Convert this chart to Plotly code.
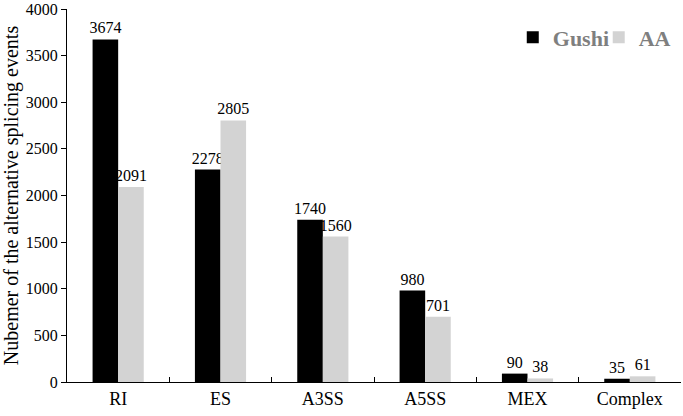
import plotly.graph_objects as go

categories = ["RI", "ES", "A3SS", "A5SS", "MEX", "Complex"]
gushi = [3674, 2278, 1740, 980, 90, 35]
aa = [2091, 2805, 1560, 701, 38, 61]
y_ticks = [0, 500, 1000, 1500, 2000, 2500, 3000, 3500, 4000]

FONT = "Liberation Serif, Times New Roman, serif"
LEG_FONT = dict(family=FONT, size=22, color="#7F7F7F", weight="bold")

fig = go.Figure()
fig.add_trace(go.Bar(
    name="Gushi", x=categories, y=gushi, legend="legend",
    marker=dict(color="#000000", line=dict(width=0)),
    text=[str(v) for v in gushi], textposition="outside",
    textfont=dict(family=FONT, size=16, color="#000000"),
    constraintext="none", cliponaxis=False,
))
fig.add_trace(go.Bar(
    name="AA", x=categories, y=aa, legend="legend2",
    marker=dict(color="#D3D3D3", line=dict(width=0)),
    text=[str(v) for v in aa], textposition="outside",
    textfont=dict(family=FONT, size=16, color="#000000"),
    constraintext="none", cliponaxis=False,
))

fig.update_layout(
    width=683, height=416,
    margin=dict(l=67, r=2, t=9, b=34, autoexpand=False),
    paper_bgcolor="white", plot_bgcolor="white",
    barmode="group", bargap=0.5, bargroupgap=0,
    font=dict(family=FONT, color="#000000"),
    showlegend=True,
    legend=dict(
        x=0.726, xanchor="left", y=0.98, yanchor="top",
        font=LEG_FONT, bgcolor="rgba(0,0,0,0)",
    ),
    legend2=dict(
        x=0.866, xanchor="left", y=0.98, yanchor="top",
        font=LEG_FONT, bgcolor="rgba(0,0,0,0)",
    ),
)
fig.update_xaxes(
    type="category", showline=True, linecolor="#000000", linewidth=1,
    ticks="inside", tickson="boundaries", ticklen=5, tickcolor="#000000",
    tickfont=dict(family=FONT, size=18, color="#000000"),
    showgrid=False, zeroline=False, automargin=False,
)
fig.update_yaxes(
    range=[0, 4000], tickvals=y_ticks, ticktext=[str(v) for v in y_ticks],
    showline=True, linecolor="#000000", linewidth=1,
    ticks="outside", ticklen=5, tickcolor="#000000",
    tickfont=dict(family=FONT, size=16, color="#000000"),
    ticklabeloverflow="allow",
    showgrid=False, zeroline=False, automargin=False,
    title=dict(text="Nubemer of the alternative splicing events",
               font=dict(family=FONT, size=20, color="#000000"), standoff=4),
)

fig.write_html("out.html", config={"displayModeBar": False},
               post_script="document.body.style.margin='0';")
